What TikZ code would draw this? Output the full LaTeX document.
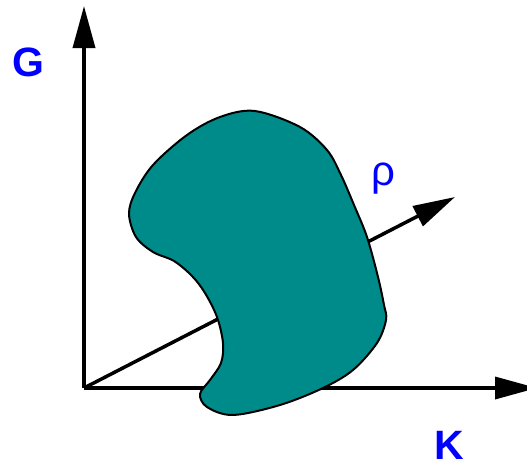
\documentclass[tikz,border=0pt]{standalone}
\usepackage{fontspec}
\setmainfont{Liberation Sans}
\usetikzlibrary{arrows.meta}
\definecolor{blobfill}{HTML}{008B8B}
\definecolor{lblue}{HTML}{0000FF}
\begin{document}
\begin{tikzpicture}[x=1pt,y=-1pt,
  axis/.style={line width=3.5pt,-{Triangle[length=42pt,width=22pt]}},
  lbl/.style={text=lblue,inner sep=0pt,font=\fontsize{41}{41}\selectfont\bfseries},
  glbl/.style={text=lblue,inner sep=0pt,font=\fontsize{42}{42}\selectfont},
  blob/.style={fill=blobfill,draw=black,line width=2pt}]
\useasboundingbox (0,0) rectangle (527,463);
\clip (0,0) rectangle (527,463);
\coordinate (O) at (84,388);
\coordinate (Gtip) at (84,6);
\coordinate (Ktip) at (537,388);
\coordinate (Rtip) at (455,197);
\draw[axis] (O) -- (Gtip);
\draw[axis] (O) -- (Ktip);
\draw[axis] (O) -- (Rtip);
\draw[blob] plot[smooth cycle,tension=0.55] coordinates {
 (255,111) (300,127) (327,150) (341,175) (354,205) (367,237) (378,277)
 (384,305) (386,320) (377,343) (353,370) (323,388) (280,405) (233,415)
 (207,407) (200,394) (210,380) (221,363) (223,343) (217,317) (205,293)
 (192,276) (174,261) (153,252) (136,237) (129,214) (135,193) (153,165) (187,135) (220,117)};
\node[lbl] (G) at (28,62) {G};
\node[lbl] (K) at (449,445) {K};
\node[glbl] (rho) at (383,179) {ρ};
\end{tikzpicture}
\end{document}
